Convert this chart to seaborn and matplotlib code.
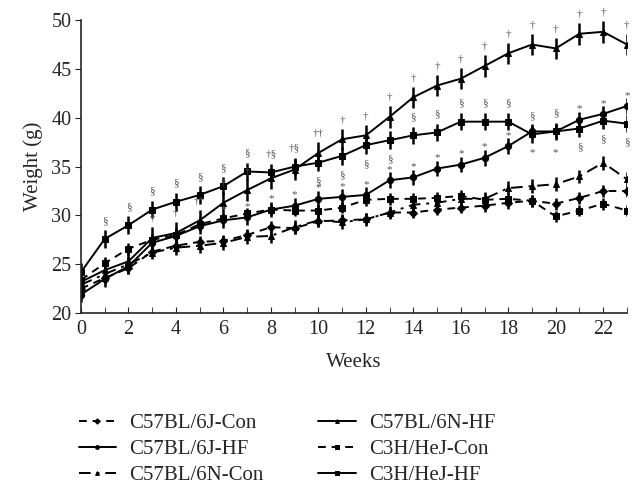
import numpy as np
import pandas as pd
import matplotlib
matplotlib.use("Agg")
import matplotlib.pyplot as plt
import seaborn as sns

sns.set_style("ticks")
plt.rcParams['font.family'] = ['Liberation Serif', 'DejaVu Serif']

# -------------------------
# Data
# -------------------------
weeks = list(range(24))
groups = ["C57BL/6J-Con", "C57BL/6J-HF", "C57BL/6N-Con",
          "C57BL/6N-HF", "C3H/HeJ-Con", "C3H/HeJ-HF"]

j_con = [22.5, 23.6, 24.6, 26.3, 26.9, 27.3, 27.4, 28.0, 28.8, 28.7, 29.4, 29.5,
         29.6, 30.3, 30.3, 30.6, 30.8, 31.0, 31.3, 31.5, 31.2, 31.8, 32.5, 32.5]
j_hf = [21.9, 23.5, 24.8, 27.2, 27.9, 28.9, 29.5, 29.8, 30.6, 31.0, 31.7, 31.9,
        32.1, 33.6, 33.9, 34.8, 35.2, 35.9, 37.1, 38.6, 38.6, 39.8, 40.4, 41.2]
n_con = [22.9, 24.0, 25.0, 26.2, 26.7, 26.9, 27.2, 27.8, 27.9, 28.8, 29.5, 29.3,
         29.6, 30.3, 31.1, 31.3, 31.7, 31.7, 32.8, 33.0, 33.2, 34.0, 35.4, 33.7]
n_hf = [23.2, 24.4, 25.3, 27.7, 28.2, 29.5, 31.3, 32.6, 33.8, 34.7, 36.4, 37.8,
        38.2, 40.1, 42.1, 43.3, 44.0, 45.3, 46.6, 47.5, 47.1, 48.6, 48.8, 47.5]
h_con = [23.4, 25.1, 26.6, 27.5, 28.0, 29.1, 29.7, 30.2, 30.6, 30.5, 30.5, 30.8,
         31.6, 31.7, 31.7, 31.8, 32.0, 31.6, 31.7, 31.5, 29.9, 30.5, 31.2, 30.5]
h_hf = [24.2, 27.6, 29.0, 30.6, 31.4, 32.1, 33.0, 34.5, 34.4, 35.0, 35.4, 36.1,
        37.2, 37.7, 38.2, 38.5, 39.6, 39.6, 39.6, 38.3, 38.6, 38.9, 39.7, 39.4]
sem = [0.6, 0.8, 0.7, 1.1, 0.6, 0.9]

# significance marks: week -> symbol
dagger_6n_hf = {3: "†", 4: "†", 5: "†*", 6: "†", 7: "†", 10: "††", 11: "†", 12: "†",
                13: "†", 14: "†", 15: "†", 16: "†", 17: "†", 18: "†", 19: "†",
                20: "†", 21: "†", 22: "†", 23: "†"}
sect_3h_hf_up = {1: "§", 2: "§", 3: "§", 4: "§", 5: "§", 6: "§", 7: "§", 8: "†§",
                 9: "†§", 14: "§", 15: "§", 16: "§", 17: "§", 18: "§", 19: "§", 20: "§"}
sect_3h_hf_down = {10: "§", 11: "§", 12: "§", 13: "§", 21: "§", 22: "§", 23: "§"}
star_6j_hf_up = {w: "*" for w in [6, 7, 8, 9, 10, 11, 12, 13, 14, 15, 16, 17, 18, 21, 22, 23]}
star_6j_hf_down = {19: "*", 20: "*"}

series = [j_con, j_hf, n_con, n_hf, h_con, h_hf]
df = pd.DataFrame({
    "week": weeks * len(groups),
    "weight": sum(series, []),
    "group": np.repeat(groups, len(weeks)),
})

markers = {"C57BL/6J-Con": "D", "C57BL/6J-HF": "o", "C57BL/6N-Con": "^",
           "C57BL/6N-HF": "^", "C3H/HeJ-Con": "s", "C3H/HeJ-HF": "s"}
dashes = {"C57BL/6J-Con": (4, 3), "C57BL/6J-HF": "", "C57BL/6N-Con": (6, 3, 1.5, 3),
          "C57BL/6N-HF": "", "C3H/HeJ-Con": (4, 3), "C3H/HeJ-HF": ""}

# -------------------------
# Plot
# -------------------------
fig = plt.figure(figsize=(6.43, 4.9), dpi=100)
ax = fig.add_axes([0.126, 0.361, 0.849, 0.598])

for g, vals, e in zip(groups, series, sem):
    ax.errorbar(weeks, vals, yerr=e, fmt="none", ecolor="black", elinewidth=1.8, capsize=0)

sns.lineplot(data=df, x="week", y="weight", hue="group", style="group",
             markers=markers, dashes=dashes, palette=["black"] * 6,
             markersize=4.5, linewidth=1.4, markeredgecolor="black", ax=ax)

lookup = dict(zip(groups, series))


def put_marks(marks, group, offset):
    vals = lookup[group]
    for w, s in marks.items():
        ax.text(w, vals[w] + offset, s, ha="center", va="center",
                fontsize=8, color="#555555")


put_marks(dagger_6n_hf, "C57BL/6N-HF", 2.0)
put_marks(sect_3h_hf_up, "C3H/HeJ-HF", 1.9)
put_marks(sect_3h_hf_down, "C3H/HeJ-HF", -1.9)
put_marks(star_6j_hf_up, "C57BL/6J-HF", 1.1)
put_marks(star_6j_hf_down, "C57BL/6J-HF", -2.2)

ax.set_xlim(0, 23)
ax.set_ylim(20, 50)
ax.set_xticks(range(0, 23, 2))
ax.set_xticks(range(0, 24), minor=True)
ax.set_yticks(range(20, 51, 5))
ax.tick_params(axis="x", which="both", direction="in", length=4, labelsize=14.5, pad=5)
ax.tick_params(axis="y", direction="out", length=4, labelsize=14.5, pad=3)
ax.set_xlabel("Weeks", fontsize=15, labelpad=10)
ax.set_ylabel("Weight (g)", fontsize=15, labelpad=6)
sns.despine(ax=ax)
for sp in ax.spines.values():
    sp.set_linewidth(1.2)

handles, labels = ax.get_legend_handles_labels()
ax.get_legend().remove()
fig.legend(handles, labels, ncol=2, loc="upper left", bbox_to_anchor=(0.093, 0.194),
           frameon=False, fontsize=15, handlelength=1.8, handletextpad=0.65,
           columnspacing=2.6, labelspacing=0.3, markerscale=0.6)

fig.savefig("out.png", dpi=100)
